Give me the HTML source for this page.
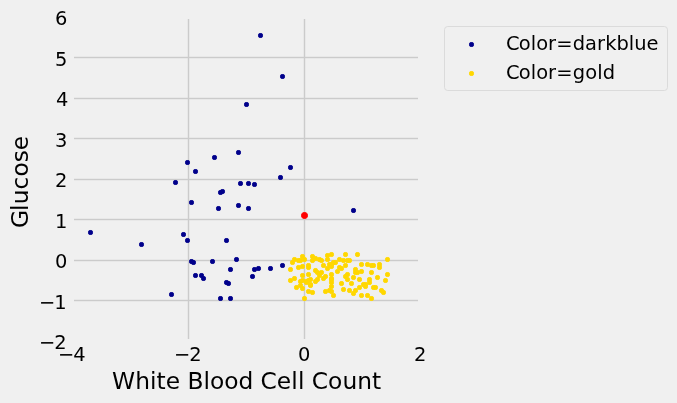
<!DOCTYPE html>
<html lang="en">
<head>
<meta charset="utf-8">
<title>White Blood Cell Count vs Glucose</title>
<style>
html,body{margin:0;padding:0;background:#f0f0f0;}
body{width:677px;height:403px;overflow:hidden;}
svg{display:block;}
text{font-family:"DejaVu Sans", "Liberation Sans", sans-serif;fill:#000;}
.t{font-size:19.444px;}
.l{font-size:23.333px;}
.g{fill:#cbcbcb;}
.b{fill:#00008b;}
.y{fill:#ffd700;}
.r{fill:#ff0000;}
</style>
</head>
<body>
<svg width="677" height="403" viewBox="0 0 677 403" shape-rendering="crispEdges">
<defs>
<g id="m"><rect x="-1" y="-1" width="3" height="3"/><path fill-opacity="0.9" d="M0 -2h1v1h-1zM0 2h1v1h-1zM-2 0h1v1h-1zM2 0h1v1h-1z"/><path fill-opacity="0.854" d="M-1 -2h1v1h-1zM1 -2h1v1h-1zM-1 2h1v1h-1zM1 2h1v1h-1zM-2 -1h1v1h-1zM-2 1h1v1h-1zM2 -1h1v1h-1zM2 1h1v1h-1z"/><path fill-opacity="0.167" d="M-2 -2h1v1h-1zM2 -2h1v1h-1zM-2 2h1v1h-1zM2 2h1v1h-1z"/><path fill-opacity="0.017" d="M0 -3h1v1h-1zM0 3h1v1h-1zM-3 0h1v1h-1zM3 0h1v1h-1z"/></g>
<g id="M"><path d="M-2 -1h5v3h-5zM-1 -2h3v5h-3z"/><path fill-opacity="0.88" d="M0 -3h1v1h-1zM0 3h1v1h-1zM-3 0h1v1h-1zM3 0h1v1h-1z"/><path fill-opacity="0.829" d="M-1 -3h1v1h-1zM1 -3h1v1h-1zM-1 3h1v1h-1zM1 3h1v1h-1zM-3 -1h1v1h-1zM-3 1h1v1h-1zM3 -1h1v1h-1zM3 1h1v1h-1z"/><path fill-opacity="0.929" d="M-2 -2h1v1h-1zM2 -2h1v1h-1zM-2 2h1v1h-1zM2 2h1v1h-1z"/><path fill-opacity="0.329" d="M-2 -3h1v1h-1zM2 -3h1v1h-1zM-2 3h1v1h-1zM2 3h1v1h-1zM-3 -2h1v1h-1zM-3 2h1v1h-1zM3 -2h1v1h-1zM3 2h1v1h-1z"/></g>
</defs>
<rect x="0" y="0" width="677" height="403" fill="#f0f0f0"/>
<g class="g">
<rect x="188" y="19" width="1" height="320"/><rect x="187" y="19" width="1" height="320" fill-opacity="0.216"/><rect x="189" y="19" width="1" height="320" fill-opacity="0.216"/>
<rect x="304" y="19" width="1" height="320"/><rect x="303" y="19" width="1" height="320" fill-opacity="0.216"/><rect x="305" y="19" width="1" height="320" fill-opacity="0.216"/>
<rect x="74" y="57" width="344" height="1"/><rect x="74" y="56" width="344" height="1" fill-opacity="0.216"/><rect x="74" y="58" width="344" height="1" fill-opacity="0.216"/>
<rect x="74" y="98" width="344" height="1"/><rect x="74" y="97" width="344" height="1" fill-opacity="0.216"/><rect x="74" y="99" width="344" height="1" fill-opacity="0.216"/>
<rect x="74" y="138" width="344" height="1"/><rect x="74" y="137" width="344" height="1" fill-opacity="0.216"/><rect x="74" y="139" width="344" height="1" fill-opacity="0.216"/>
<rect x="74" y="179" width="344" height="1"/><rect x="74" y="178" width="344" height="1" fill-opacity="0.216"/><rect x="74" y="180" width="344" height="1" fill-opacity="0.216"/>
<rect x="74" y="219" width="344" height="1"/><rect x="74" y="218" width="344" height="1" fill-opacity="0.216"/><rect x="74" y="220" width="344" height="1" fill-opacity="0.216"/>
<rect x="74" y="260" width="344" height="1"/><rect x="74" y="259" width="344" height="1" fill-opacity="0.216"/><rect x="74" y="261" width="344" height="1" fill-opacity="0.216"/>
<rect x="74" y="300" width="344" height="1"/><rect x="74" y="299" width="344" height="1" fill-opacity="0.216"/><rect x="74" y="301" width="344" height="1" fill-opacity="0.216"/>
</g>
<g class="b">
<use href="#m" x="260" y="35"/>
<use href="#m" x="282" y="76"/>
<use href="#m" x="246" y="104"/>
<use href="#m" x="238" y="152"/>
<use href="#m" x="214" y="157"/>
<use href="#m" x="290" y="167"/>
<use href="#m" x="280" y="177"/>
<use href="#m" x="240" y="183"/>
<use href="#m" x="248" y="183"/>
<use href="#m" x="254" y="184"/>
<use href="#m" x="222" y="191"/>
<use href="#m" x="220" y="192"/>
<use href="#m" x="238" y="205"/>
<use href="#m" x="248" y="208"/>
<use href="#m" x="218" y="208"/>
<use href="#m" x="226" y="240"/>
<use href="#m" x="236" y="259"/>
<use href="#m" x="212" y="261"/>
<use href="#m" x="230" y="269"/>
<use href="#m" x="201" y="275"/>
<use href="#m" x="203" y="278"/>
<use href="#m" x="226" y="282"/>
<use href="#m" x="228" y="283"/>
<use href="#m" x="220" y="298"/>
<use href="#m" x="230" y="298"/>
<use href="#m" x="254" y="269"/>
<use href="#m" x="258" y="268"/>
<use href="#m" x="252" y="276"/>
<use href="#m" x="270" y="268"/>
<use href="#m" x="282" y="265"/>
<use href="#m" x="187" y="162"/>
<use href="#m" x="195" y="171"/>
<use href="#m" x="175" y="182"/>
<use href="#m" x="191" y="202"/>
<use href="#m" x="90" y="232"/>
<use href="#m" x="183" y="234"/>
<use href="#m" x="187" y="240"/>
<use href="#m" x="141" y="244"/>
<use href="#m" x="191" y="261"/>
<use href="#m" x="193" y="262"/>
<use href="#m" x="195" y="275"/>
<use href="#m" x="171" y="294"/>
<use href="#m" x="353" y="210"/>
</g>
<g class="y">
<use href="#m" x="290" y="269"/>
<use href="#m" x="292" y="262"/>
<use href="#m" x="294" y="259"/>
<use href="#m" x="298" y="260"/>
<use href="#m" x="300" y="260"/>
<use href="#m" x="302" y="256"/>
<use href="#m" x="304" y="259"/>
<use href="#m" x="298" y="267"/>
<use href="#m" x="302" y="266"/>
<use href="#m" x="308" y="265"/>
<use href="#m" x="308" y="267"/>
<use href="#m" x="312" y="256"/>
<use href="#m" x="312" y="260"/>
<use href="#m" x="315" y="258"/>
<use href="#m" x="319" y="259"/>
<use href="#m" x="321" y="260"/>
<use href="#m" x="345" y="254"/>
<use href="#m" x="331" y="254"/>
<use href="#m" x="327" y="255"/>
<use href="#m" x="327" y="259"/>
<use href="#m" x="339" y="259"/>
<use href="#m" x="343" y="260"/>
<use href="#m" x="347" y="260"/>
<use href="#m" x="349" y="260"/>
<use href="#m" x="333" y="262"/>
<use href="#m" x="335" y="262"/>
<use href="#m" x="331" y="264"/>
<use href="#m" x="329" y="264"/>
<use href="#m" x="331" y="266"/>
<use href="#m" x="327" y="268"/>
<use href="#m" x="323" y="265"/>
<use href="#m" x="345" y="265"/>
<use href="#m" x="339" y="267"/>
<use href="#m" x="341" y="268"/>
<use href="#m" x="337" y="271"/>
<use href="#m" x="315" y="270"/>
<use href="#m" x="321" y="272"/>
<use href="#m" x="355" y="269"/>
<use href="#m" x="357" y="254"/>
<use href="#m" x="387" y="259"/>
<use href="#m" x="361" y="264"/>
<use href="#m" x="367" y="264"/>
<use href="#m" x="371" y="265"/>
<use href="#m" x="373" y="265"/>
<use href="#m" x="379" y="264"/>
<use href="#m" x="379" y="267"/>
<use href="#m" x="361" y="271"/>
<use href="#m" x="371" y="272"/>
<use href="#m" x="302" y="275"/>
<use href="#m" x="308" y="274"/>
<use href="#m" x="294" y="278"/>
<use href="#m" x="325" y="276"/>
<use href="#m" x="331" y="274"/>
<use href="#m" x="323" y="278"/>
<use href="#m" x="317" y="272"/>
<use href="#m" x="319" y="275"/>
<use href="#m" x="317" y="279"/>
<use href="#m" x="315" y="281"/>
<use href="#m" x="290" y="280"/>
<use href="#m" x="300" y="281"/>
<use href="#m" x="302" y="280"/>
<use href="#m" x="308" y="280"/>
<use href="#m" x="306" y="281"/>
<use href="#m" x="306" y="282"/>
<use href="#m" x="310" y="279"/>
<use href="#m" x="310" y="284"/>
<use href="#m" x="310" y="285"/>
<use href="#m" x="296" y="287"/>
<use href="#m" x="302" y="288"/>
<use href="#m" x="308" y="291"/>
<use href="#m" x="312" y="292"/>
<use href="#m" x="304" y="298"/>
<use href="#m" x="300" y="285"/>
<use href="#m" x="331" y="278"/>
<use href="#m" x="331" y="279"/>
<use href="#m" x="331" y="282"/>
<use href="#m" x="331" y="286"/>
<use href="#m" x="329" y="290"/>
<use href="#m" x="331" y="291"/>
<use href="#m" x="325" y="291"/>
<use href="#m" x="333" y="295"/>
<use href="#m" x="341" y="283"/>
<use href="#m" x="343" y="289"/>
<use href="#m" x="347" y="274"/>
<use href="#m" x="345" y="276"/>
<use href="#m" x="347" y="279"/>
<use href="#m" x="353" y="277"/>
<use href="#m" x="359" y="279"/>
<use href="#m" x="355" y="272"/>
<use href="#m" x="357" y="272"/>
<use href="#m" x="369" y="279"/>
<use href="#m" x="351" y="283"/>
<use href="#m" x="377" y="277"/>
<use href="#m" x="387" y="274"/>
<use href="#m" x="385" y="280"/>
<use href="#m" x="349" y="290"/>
<use href="#m" x="355" y="290"/>
<use href="#m" x="353" y="293"/>
<use href="#m" x="359" y="287"/>
<use href="#m" x="363" y="284"/>
<use href="#m" x="365" y="284"/>
<use href="#m" x="365" y="286"/>
<use href="#m" x="369" y="282"/>
<use href="#m" x="361" y="295"/>
<use href="#m" x="367" y="295"/>
<use href="#m" x="373" y="287"/>
<use href="#m" x="375" y="287"/>
<use href="#m" x="381" y="290"/>
<use href="#m" x="383" y="292"/>
<use href="#m" x="371" y="298"/>
</g>
<g class="r">
<use href="#M" x="304" y="215"/>
</g>
<path d="M447.7 90.5L664.3 90.5Q667.5 90.5 667.5 87.3L667.5 29.7Q667.5 26.5 664.3 26.5L447.7 26.5Q444.5 26.5 444.5 29.7L444.5 87.3Q444.5 90.5 447.7 90.5Z" fill="none" stroke="#dbdbdb" stroke-width="1" shape-rendering="auto"/>
<use href="#m" x="471" y="44" class="b"/>
<use href="#m" x="471" y="73" class="y"/>
<g shape-rendering="auto">
<text class="t" x="506.11 518.68 530.82 536.22 548.11 556.35 572.65 584.97 596.9 605.13 616.4 628.72 634.13 646.44" y="49.53">Color=darkblue</text>
<text class="t" x="506.11 518.68 530.82 536.22 548.11 556.35 572.65 585.22 597.36 602.77" y="78.57">Color=gold</text>
<text class="t" x="57.92 73.2" y="360.64">−4</text>
<text class="t" x="173.92 189.2" y="360.64">−2</text>
<text class="t" x="298.06" y="360.64">0</text>
<text class="t" x="414.06" y="360.64">2</text>
<text class="l" x="112.09 135.16 149.94 156.42 165.81 179.92 187.58 203.59 210.06 224.34 238.61 253.17 260.59 276.87 291.23 297.95 304.19 311.86 327.89 342.42 357.2 371.98" y="388.72">White Blood Cell Count</text>
<text class="t" x="55.11" y="24.64">6</text>
<text class="t" x="55.11" y="65.64">5</text>
<text class="t" x="56.11" y="105.64">4</text>
<text class="t" x="55.11" y="146.64">3</text>
<text class="t" x="55.11" y="186.64">2</text>
<text class="t" x="55.11" y="227.64">1</text>
<text class="t" x="55.11" y="267.64">0</text>
<text class="t" x="39.08 54.36" y="308.64">−1</text>
<text class="t" x="39.08 54.36" y="348.64">−2</text>
<text class="l" x="-18.66 -1.6 5.14 19.92 32.75 47.03 59.18" y="181.8" transform="rotate(-90 27.57 181.8)">Glucose</text>
</g>
</svg>
</body>
</html>
